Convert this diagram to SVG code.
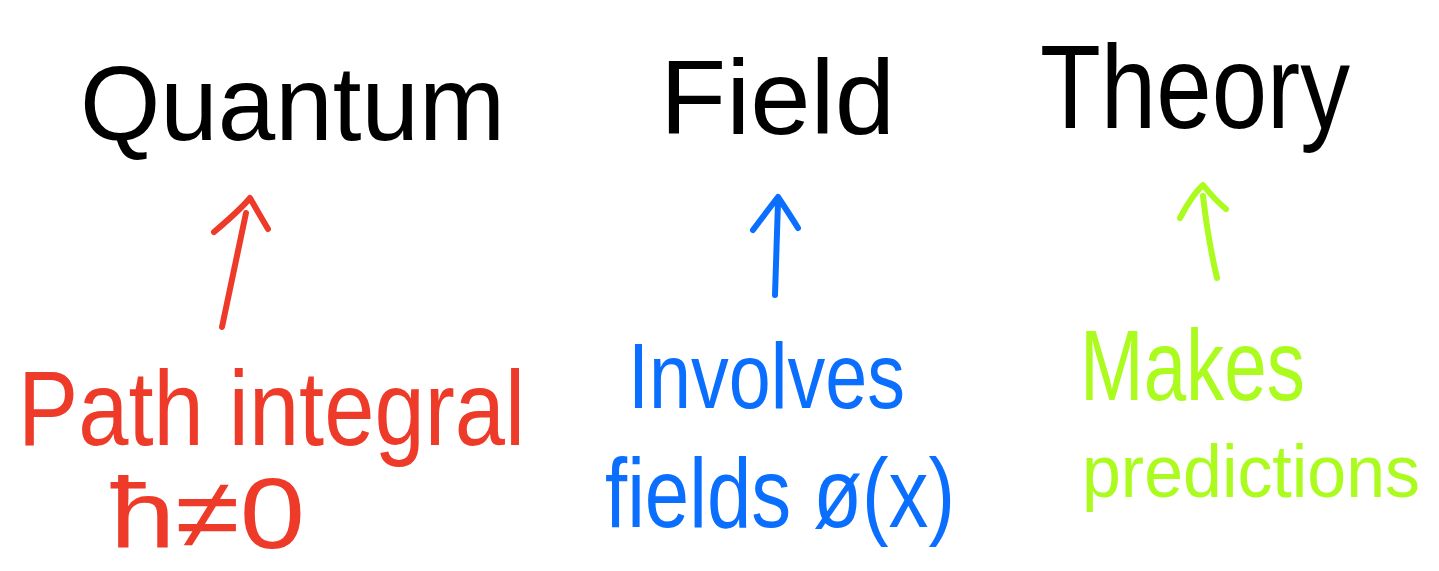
<svg xmlns="http://www.w3.org/2000/svg" width="1439" height="571" viewBox="0 0 1439 571">
<style>
.t{font-family:"Liberation Sans","DejaVu Sans",sans-serif;}
.blk{fill:#000;}
.red{fill:#ee3a28;}
.blue{fill:#0a6eff;}
.green{fill:#abfb1e;}
.arr{fill:none;stroke-width:6;stroke-linecap:round;stroke-linejoin:round;}
</style>
<rect width="1439" height="571" fill="#fff"/>
<g id="quantum"><text class="t blk" x="80" y="140" font-size="105" textLength="425" lengthAdjust="spacingAndGlyphs">Quantum</text></g>
<g id="field"><text class="t blk" x="660" y="134" font-size="105" textLength="235" lengthAdjust="spacingAndGlyphs">Field</text></g>
<g id="theory"><text class="t blk" x="1040" y="128" font-size="118" textLength="310" lengthAdjust="spacingAndGlyphs">Theory</text></g>
<g id="path-integral">
<text class="t red" x="18" y="445" font-size="106" textLength="507" lengthAdjust="spacingAndGlyphs">Path integral</text>
<text class="t red" x="110" y="548" font-size="100" textLength="195" lengthAdjust="spacingAndGlyphs">ħ≠0</text>
</g>
<g id="involves-fields">
<text class="t blue" x="628" y="408" font-size="92" textLength="277" lengthAdjust="spacingAndGlyphs">Involves</text>
<text class="t blue" x="605" y="527" font-size="98" textLength="350" lengthAdjust="spacingAndGlyphs">fields ø(x)</text>
</g>
<g id="makes-predictions">
<text class="t green" x="1080" y="400" font-size="100" textLength="225" lengthAdjust="spacingAndGlyphs">Makes</text>
<text class="t green" x="1082" y="497" font-size="74" textLength="338" lengthAdjust="spacingAndGlyphs">predictions</text>
</g>
<g id="connectors">
<path class="arr" stroke="#ee3a28" d="M222 327 L246 213 M214 232 Q240 210 250 198 Q258 212 268 229"/>
<path class="arr" stroke="#0a6eff" d="M775 295 L778 202 M753 230 Q768 210 778 197 Q790 215 798 228"/>
<path class="arr" stroke="#abfb1e" d="M1217 278 Q1208 240 1203 196 M1180 218 Q1192 195 1203 185 Q1215 200 1226 209"/>
</g>
</svg>
